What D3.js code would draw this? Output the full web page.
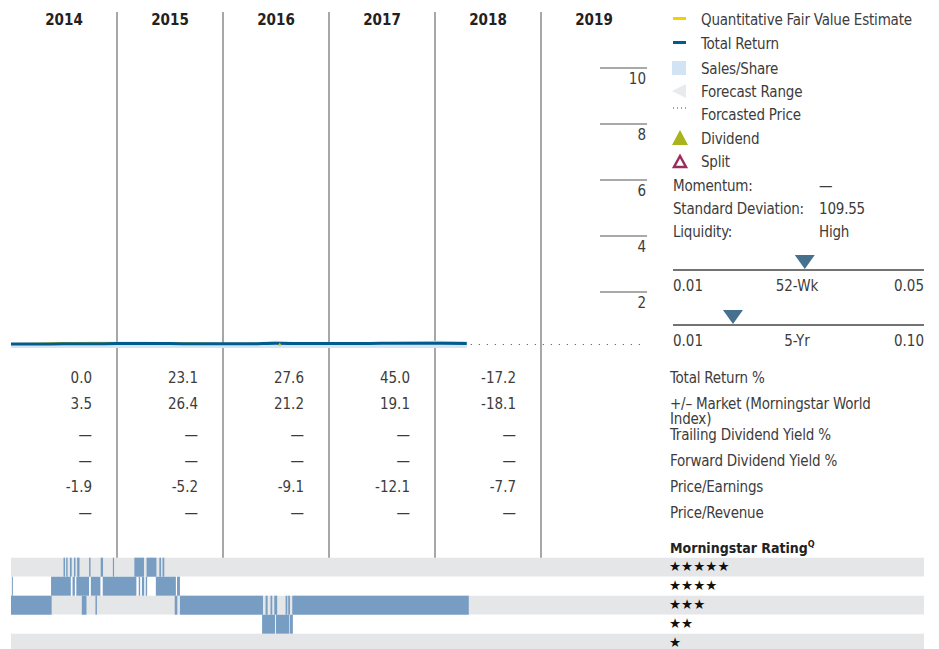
<!DOCTYPE html>
<html>
<head>
<meta charset="utf-8">
<script src="https://cdn.jsdelivr.net/npm/d3@7"></script>
<style>
  body { margin: 0; background: #fff; }
  svg { display: block; font-family: "DejaVu Sans Condensed", "Liberation Sans Narrow", "Liberation Sans", sans-serif; }
  .lab { letter-spacing: -0.2px; }
</style>
</head>
<body>
<div id="chart"></div>
<script>
// ---- data ----
var years = [2014, 2015, 2016, 2017, 2018, 2019];
var yTicks = [2, 4, 6, 8, 10];

var totalReturnDates = ["2014-01-01","2014-04-01","2014-07-01","2014-10-01","2015-01-01","2015-04-01","2015-07-01","2015-10-01",
  "2016-01-01","2016-04-01","2016-07-01","2016-10-01","2017-01-01","2017-04-01","2017-07-01","2017-10-01","2018-01-01","2018-04-20"];
var totalReturnValues = [0.14, 0.14, 0.15, 0.15, 0.16, 0.16, 0.16, 0.15, 0.15, 0.15, 0.17, 0.16, 0.16, 0.16, 0.17, 0.17, 0.17, 0.16];
var fairValueValues = [0.16, 0.17, 0.19, 0.2, 0.2, 0.2, 0.19, 0.18, 0.17, 0.17, 0.19, 0.18, 0.17, 0.18, 0.19, 0.2, 0.2, 0.19];
var salesValues = [0.1, 0.12, 0.16, 0.14, 0.18, 0.19, 0.17, 0.12, 0.12, 0.16, 0.26, 0.2, 0.16, 0.18, 0.2, 0.22, 0.26, 0.24];
var forecastEnd = "2019-12-31";
var dividendDates = ["2016-07-15"];

var rowLabels = ["Total Return %", "+/\u2013 Market (Morningstar World Index)", "Trailing Dividend Yield %",
  "Forward Dividend Yield %", "Price/Earnings", "Price/Revenue"];
var totalReturnPct = ["0.0", "23.1", "27.6", "45.0", "-17.2"];
var marketPct = ["3.5", "26.4", "21.2", "19.1", "-18.1"];
var trailingYield = ["\u2014", "\u2014", "\u2014", "\u2014", "\u2014"];
var forwardYield = ["\u2014", "\u2014", "\u2014", "\u2014", "\u2014"];
var priceEarnings = ["-1.9", "-5.2", "-9.1", "-12.1", "-7.7"];
var priceRevenue = ["\u2014", "\u2014", "\u2014", "\u2014", "\u2014"];

var legendLabels = ["Quantitative Fair Value Estimate", "Total Return", "Sales/Share", "Forecast Range",
  "Forcasted Price", "Dividend", "Split"];
var statLabels = ["Momentum:", "Standard Deviation:", "Liquidity:"];
var statValues = ["\u2014", "109.55", "High"];
var liq52Wk = { min: 0.01, max: 0.05, value: 0.031, label: "52-Wk", minLabel: "0.01", maxLabel: "0.05" };
var liq5Yr = { min: 0.01, max: 0.10, value: 0.0315, label: "5-Yr", minLabel: "0.01", maxLabel: "0.10" };

var ratingLevels = [5, 4, 3, 2, 1];
// [rating, from, to]
var ratingHistory = [
  [5,"2014-07-01","2014-07-06"],[5,"2014-07-10","2014-07-15"],[5,"2014-07-23","2014-07-29"],[5,"2014-08-06","2014-08-11"],
  [5,"2014-08-17","2014-08-25"],[5,"2014-09-27","2014-10-02"],[5,"2014-11-06","2014-11-14"],[5,"2014-12-18","2014-12-22"],
  [5,"2015-03-02","2015-04-04"],[5,"2015-04-13","2015-05-17"],[5,"2015-05-27","2015-06-02"],[5,"2015-06-07","2015-06-13"],
  [4,"2014-01-04","2014-01-07"],[4,"2014-05-19","2014-07-26"],[4,"2014-08-01","2014-08-09"],[4,"2014-08-14","2014-09-27"],
  [4,"2014-10-03","2014-11-05"],[4,"2014-11-13","2015-03-09"],[4,"2015-03-17","2015-03-22"],[4,"2015-03-28","2015-04-05"],
  [4,"2015-04-10","2015-04-15"],[4,"2015-05-15","2015-07-23"],[4,"2015-07-27","2015-08-06"],
  [3,"2014-01-01","2014-05-21"],[3,"2014-09-02","2014-09-18"],[3,"2014-10-19","2014-10-24"],[3,"2015-07-19","2015-07-28"],
  [3,"2015-08-06","2016-05-18"],[3,"2016-05-27","2016-06-03"],[3,"2016-06-13","2016-06-19"],[3,"2016-06-26","2016-07-06"],
  [3,"2016-08-04","2016-08-10"],[3,"2016-08-13","2016-08-19"],[3,"2016-08-27","2018-04-27"],
  [2,"2016-05-15","2016-06-29"],[2,"2016-07-02","2016-08-16"],[2,"2016-08-18","2016-08-29"]
];

// ---- layout ----
var W = 939, H = 649;
var parse = d3.timeParse("%Y-%m-%d");
var textColor = "#3c3c3c";
var fs = 15;

var svg = d3.select("#chart").append("svg")
    .attr("width", W)
    .attr("height", H);

var x = d3.scaleTime()
    .domain([new Date(2014, 0, 1), new Date(2020, 0, 1)])
    .range([11, 647]);

var y = d3.scaleLinear()
    .domain([0, 10])
    .range([348, 68]);

var yearBand = d3.scaleBand()
    .domain(years)
    .range([11, 647]);

// year headers
svg.selectAll(".year")
    .data(years)
    .enter().append("text")
    .attr("x", d => yearBand(d) + yearBand.bandwidth() / 2)
    .attr("y", 25)
    .attr("text-anchor", "middle")
    .attr("font-weight", "bold")
    .attr("font-size", 15)
    .attr("fill", "#222")
    .text(d => d);

// column separators
svg.selectAll(".sep")
    .data(years.slice(1))
    .enter().append("line")
    .attr("x1", d => yearBand(d))
    .attr("x2", d => yearBand(d))
    .attr("y1", 12)
    .attr("y2", 558)
    .attr("stroke", "#8a8a8a")
    .attr("stroke-width", 1.5);

// y ticks
svg.selectAll(".ytick")
    .data(yTicks)
    .enter().append("line")
    .attr("x1", 600)
    .attr("x2", 647)
    .attr("y1", d => y(d))
    .attr("y2", d => y(d))
    .attr("stroke", "#555")
    .attr("stroke-width", 1);

svg.selectAll(".ylab")
    .data(yTicks)
    .enter().append("text")
    .attr("x", 646)
    .attr("y", d => y(d) + 16)
    .attr("text-anchor", "end")
    .attr("font-size", fs)
    .attr("fill", textColor)
    .text(d => d);

// series
var dates = totalReturnDates.map(parse);
var series = dates.map((d, i) => ({ date: d, tr: totalReturnValues[i], fv: fairValueValues[i], sales: salesValues[i] }));

svg.append("path")
    .datum(series)
    .attr("fill", "#d4e4f3")
    .attr("d", d3.area().curve(d3.curveMonotoneX)
        .x(d => x(d.date)).y0(y(0)).y1(d => y(d.sales)));

svg.append("path")
    .datum(series)
    .attr("fill", "none")
    .attr("stroke", "#f2d600")
    .attr("stroke-width", 1.2)
    .attr("d", d3.line().curve(d3.curveMonotoneX)
        .x(d => x(d.date)).y(d => y(d.fv)));

svg.append("path")
    .datum(series)
    .attr("fill", "none")
    .attr("stroke", "#005b8f")
    .attr("stroke-width", 3)
    .attr("d", d3.line().curve(d3.curveMonotoneX)
        .x(d => x(d.date)).y(d => y(d.tr)));

var last = series[series.length - 1];
svg.append("line")
    .attr("x1", x(last.date) + 4)
    .attr("x2", x(parse(forecastEnd)))
    .attr("y1", y(last.tr) + 1)
    .attr("y2", y(last.tr) + 1)
    .attr("stroke", "#666")
    .attr("stroke-width", 1.2)
    .attr("stroke-dasharray", "1.2,6.8");

svg.selectAll(".div")
    .data(dividendDates.map(parse))
    .enter().append("path")
    .attr("transform", d => `translate(${x(d)},${y(0.16) + 1})`)
    .attr("d", d3.symbol().type(d3.symbolTriangle).size(5))
    .attr("fill", "#c9c400");

// table values
var tableRows = [totalReturnPct, marketPct, trailingYield, forwardYield, priceEarnings, priceRevenue];
var rowY = [383, 409, 440, 466, 492, 518];

tableRows.forEach(function (row, r) {
    svg.selectAll(".v" + r)
        .data(row)
        .enter().append("text")
        .attr("x", (d, i) => yearBand(years[i]) + yearBand.bandwidth() - 25)
        .attr("y", rowY[r])
        .attr("text-anchor", "end")
        .attr("font-size", fs)
        .attr("fill", textColor)
        .text(d => d);
});

rowLabels.forEach(function (lab, r) {
    var t = svg.append("text")
        .attr("class", "lab")
        .attr("x", 670)
        .attr("y", rowY[r])
        .attr("font-size", fs)
        .attr("fill", textColor);
    if (r === 1) {
        t.append("tspan").attr("x", 670).text("+/\u2013 Market (Morningstar World");
        t.append("tspan").attr("x", 670).attr("dy", 15).text("Index)");
    } else {
        t.text(lab);
    }
});

// legend
var legY = [19, 43, 68, 91, 114, 138, 161];
var leg = svg.append("g");
leg.selectAll("text")
    .data(legendLabels)
    .enter().append("text")
    .attr("class", "lab")
    .attr("x", 701)
    .attr("y", (d, i) => legY[i] + 5.5)
    .attr("font-size", fs)
    .attr("fill", textColor)
    .text(d => d);

leg.append("rect").attr("x", 673).attr("y", legY[0] - 2).attr("width", 13).attr("height", 3).attr("fill", "#f5d000");
leg.append("rect").attr("x", 673).attr("y", legY[1] - 2).attr("width", 13).attr("height", 3).attr("fill", "#005b8f");
leg.append("rect").attr("x", 672).attr("y", legY[2] - 7).attr("width", 14).attr("height", 14).attr("fill", "#d2e3f3");
leg.append("path").attr("d", `M686,${legY[3] - 7}L672,${legY[3]}L686,${legY[3] + 7}Z`).attr("fill", "#e8eaec");
leg.append("line").attr("x1", 673).attr("x2", 688).attr("y1", legY[4] - 6).attr("y2", legY[4] - 6)
    .attr("stroke", "#444").attr("stroke-width", 1).attr("stroke-dasharray", "1,3");
leg.append("path").attr("d", `M680,${legY[5] - 8}L688,${legY[5] + 7}L672,${legY[5] + 7}Z`).attr("fill", "#a9b41d");
leg.append("path").attr("d", `M680,${legY[6] - 5}L686,${legY[6] + 6}L674,${legY[6] + 6}Z`)
    .attr("fill", "none").attr("stroke", "#9b2d5c").attr("stroke-width", 2.5);

// stats
var statY = [191, 214, 237];
svg.selectAll(".statl")
    .data(statLabels)
    .enter().append("text")
    .attr("class", "lab")
    .attr("x", 673)
    .attr("y", (d, i) => statY[i])
    .attr("font-size", fs)
    .attr("fill", textColor)
    .text(d => d);
svg.selectAll(".statv")
    .data(statValues)
    .enter().append("text")
    .attr("class", "lab")
    .attr("x", 819)
    .attr("y", (d, i) => statY[i])
    .attr("font-size", fs)
    .attr("fill", textColor)
    .text(d => d);

// liquidity scales
function liqScale(cfg, lineY) {
    var s = d3.scaleLinear().domain([cfg.min, cfg.max]).range([673, 924]);
    svg.append("line")
        .attr("x1", 673).attr("x2", 924)
        .attr("y1", lineY).attr("y2", lineY)
        .attr("stroke", "#444").attr("stroke-width", 1.5);
    var tx = s(cfg.value);
    svg.append("path")
        .attr("d", `M${tx - 10},${lineY - 15}L${tx + 10},${lineY - 15}L${tx},${lineY - 1}Z`)
        .attr("fill", "#45718f");
    svg.append("text").attr("x", 673).attr("y", lineY + 21).attr("font-size", fs).attr("fill", textColor).text(cfg.minLabel);
    svg.append("text").attr("x", 797).attr("y", lineY + 21).attr("text-anchor", "middle").attr("font-size", fs).attr("fill", textColor).text(cfg.label);
    svg.append("text").attr("x", 924).attr("y", lineY + 21).attr("text-anchor", "end").attr("font-size", fs).attr("fill", textColor).text(cfg.maxLabel);
}
liqScale(liq52Wk, 270);
liqScale(liq5Yr, 325);

// rating band
var ratingY = d3.scaleBand()
    .domain(ratingLevels)
    .range([557.7, 652.7]);

svg.selectAll(".rrow")
    .data(ratingLevels)
    .enter().append("rect")
    .attr("x", 11)
    .attr("width", 924 - 11)
    .attr("y", d => ratingY(d))
    .attr("height", ratingY.bandwidth())
    .attr("fill", (d, i) => i % 2 === 0 ? "#e5e6e8" : "#fff");

svg.selectAll(".rseg")
    .data(ratingHistory)
    .enter().append("rect")
    .attr("x", d => x(parse(d[1])))
    .attr("width", d => Math.max(1, x(parse(d[2])) - x(parse(d[1]))))
    .attr("y", d => ratingY(d[0]))
    .attr("height", ratingY.bandwidth())
    .attr("fill", "#779dc3");

svg.selectAll(".stars")
    .data(ratingLevels)
    .enter().append("text")
    .attr("x", 669)
    .attr("y", d => ratingY(d) + ratingY.bandwidth() / 2 + 3.5)
    .attr("font-size", 13.5)
    .attr("font-family", "DejaVu Sans")
    .attr("fill", "#111")
    .text(d => "\u2605".repeat(d));

var hdr = svg.append("text")
    .attr("x", 670)
    .attr("y", 553)
    .attr("font-size", 14)
    .attr("font-weight", "bold")
    .attr("fill", "#222");
hdr.append("tspan").text("Morningstar Rating");
hdr.append("tspan").attr("dy", -6).attr("font-size", 9).text("Q");
</script>
</body>
</html>
